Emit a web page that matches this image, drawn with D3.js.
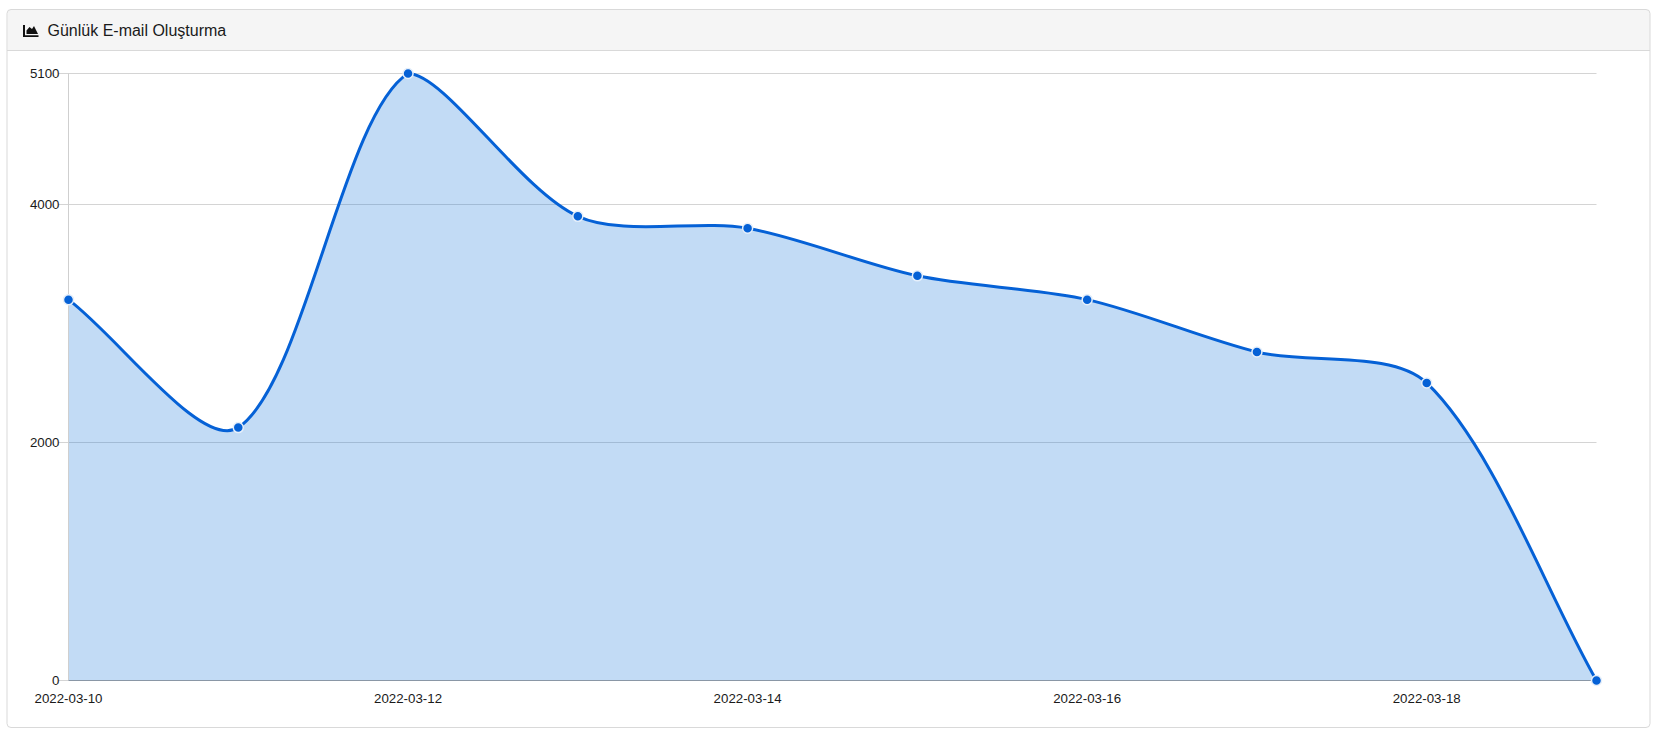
<!DOCTYPE html>
<html>
<head>
<meta charset="utf-8">
<script src="https://cdn.jsdelivr.net/npm/d3@7"></script>
<style>
  html, body { margin: 0; padding: 0; background: #fff; overflow: hidden; }
  text { font-family: "Liberation Sans", Arial, sans-serif; fill: #1a1a1a; }
</style>
</head>
<body>
<div id="chart"></div>
<script>
// values
var dates = ["2022-03-10", "2022-03-11", "2022-03-12", "2022-03-13", "2022-03-14",
             "2022-03-15", "2022-03-16", "2022-03-17", "2022-03-18", "2022-03-19"];
var emails = [3200, 2125, 5100, 3900, 3800, 3400, 3200, 2760, 2500, 0];
var yTicks = [0, 2000, 4000, 5100];
var xTicks = ["2022-03-10", "2022-03-12", "2022-03-14", "2022-03-16", "2022-03-18"];
var title = "Günlük E-mail Oluşturma";

var W = 1657, H = 734;
var left = 68.5, right = 1596.5, top_ = 73.5, bottom = 680.5;
var blue = "#0561d6";

var svg = d3.select("#chart").append("svg")
    .attr("width", W)
    .attr("height", H)
    .style("display", "block");

// card and header
svg.append("path")
    .attr("d", "M7.5,50.5V13.5a4,4 0 0 1 4,-4H1646a4,4 0 0 1 4,4V50.5Z")
    .attr("fill", "#f5f5f5");
svg.append("rect")
    .attr("x", 7).attr("y", 9.5).attr("width", 1643).attr("height", 718)
    .attr("rx", 4)
    .attr("fill", "none").attr("stroke", "#d9d9d9");
svg.append("line")
    .attr("x1", 7).attr("x2", 1650).attr("y1", 50.5).attr("y2", 50.5)
    .attr("stroke", "#d9d9d9");

// chart-area icon
svg.append("path")
    .attr("d", "M23,25V37H38.5V35.2H25V25ZM26.5,34V30.5L29.5,27L32,29L34,26L38,34Z")
    .attr("fill", "#111");
svg.append("text")
    .attr("x", 47.5).attr("y", 36)
    .attr("font-size", 16)
    .text(title);

var x = d3.scalePoint().domain(dates).range([left, right]);
var y = d3.scaleLinear().domain([0, 5100]).range([bottom, top_]);

// gridlines
svg.selectAll(".grid").data(yTicks.filter(function(d) { return d > 0; }))
  .enter().append("line")
    .attr("x1", left - 10).attr("x2", right)
    .attr("y1", function(d) { return Math.round(y(d) - 0.5) + 0.5; })
    .attr("y2", function(d) { return Math.round(y(d) - 0.5) + 0.5; })
    .attr("stroke", "#d4d4d4");

// Chart.js style spline, control points stay inside the chart area
function splineCurve(context) {
  var pts;
  function cap(v, a, b) { return Math.max(a, Math.min(b, v)); }
  return {
    areaStart: function() {},
    areaEnd: function() {},
    lineStart: function() { pts = []; },
    point: function(px, py) { pts.push([+px, +py]); },
    lineEnd: function() {
      var t = 0.3, n = pts.length, ctrl = [];
      pts.forEach(function(p, i) {
        var a = pts[i - 1] || p, b = pts[i + 1] || p;
        var d01 = Math.hypot(p[0] - a[0], p[1] - a[1]);
        var d12 = Math.hypot(b[0] - p[0], b[1] - p[1]);
        var s01 = d01 / (d01 + d12), s12 = d12 / (d01 + d12);
        ctrl.push({
          prev: [cap(p[0] - t * s01 * (b[0] - a[0]), left, right), cap(p[1] - t * s01 * (b[1] - a[1]), top_, bottom)],
          next: [cap(p[0] + t * s12 * (b[0] - a[0]), left, right), cap(p[1] + t * s12 * (b[1] - a[1]), top_, bottom)]
        });
      });
      context.moveTo(pts[0][0], pts[0][1]);
      for (var i = 1; i < n; i++) {
        context.bezierCurveTo(ctrl[i - 1].next[0], ctrl[i - 1].next[1],
                              ctrl[i].prev[0], ctrl[i].prev[1],
                              pts[i][0], pts[i][1]);
      }
    }
  };
}

var line = d3.line()
    .x(function(d, i) { return x(dates[i]); })
    .y(function(d) { return y(d); })
    .curve(splineCurve);

var linePath = line(emails);

// fill under the line
svg.append("path")
    .attr("d", linePath + "L" + x(dates[dates.length - 1]) + "," + y(0) + "L" + x(dates[0]) + "," + y(0) + "Z")
    .attr("fill", "rgba(11,110,214,0.25)")
    .attr("stroke", "none");

// axes
svg.append("line")
    .attr("x1", left).attr("x2", left)
    .attr("y1", top_).attr("y2", bottom)
    .attr("stroke", "#cfcfcf");
svg.append("line")
    .attr("x1", left - 10).attr("x2", left)
    .attr("y1", bottom).attr("y2", bottom)
    .attr("stroke", "#d4d4d4");
svg.append("line")
    .attr("x1", left).attr("x2", right)
    .attr("y1", bottom).attr("y2", bottom)
    .attr("stroke", "#8a97a6");

svg.selectAll(".ylab").data(yTicks)
  .enter().append("text")
    .attr("x", left - 9)
    .attr("y", function(d) { return y(d) + 4.5; })
    .attr("text-anchor", "end")
    .attr("font-size", 13.3)
    .text(function(d) { return d; });

svg.selectAll(".xlab").data(xTicks)
  .enter().append("text")
    .attr("x", function(d) { return x(d); })
    .attr("y", 702.5)
    .attr("text-anchor", "middle")
    .attr("font-size", 13.3)
    .text(function(d) { return d; });

// line and points
svg.append("path")
    .attr("d", linePath)
    .attr("fill", "none")
    .attr("stroke", blue)
    .attr("stroke-width", 3);

svg.selectAll(".pt").data(emails)
  .enter().append("circle")
    .attr("cx", function(d, i) { return x(dates[i]); })
    .attr("cy", function(d) { return y(d); })
    .attr("r", 5)
    .attr("fill", blue)
    .attr("stroke", "#e6effa")
    .attr("stroke-width", 1.5);
</script>
</body>
</html>
